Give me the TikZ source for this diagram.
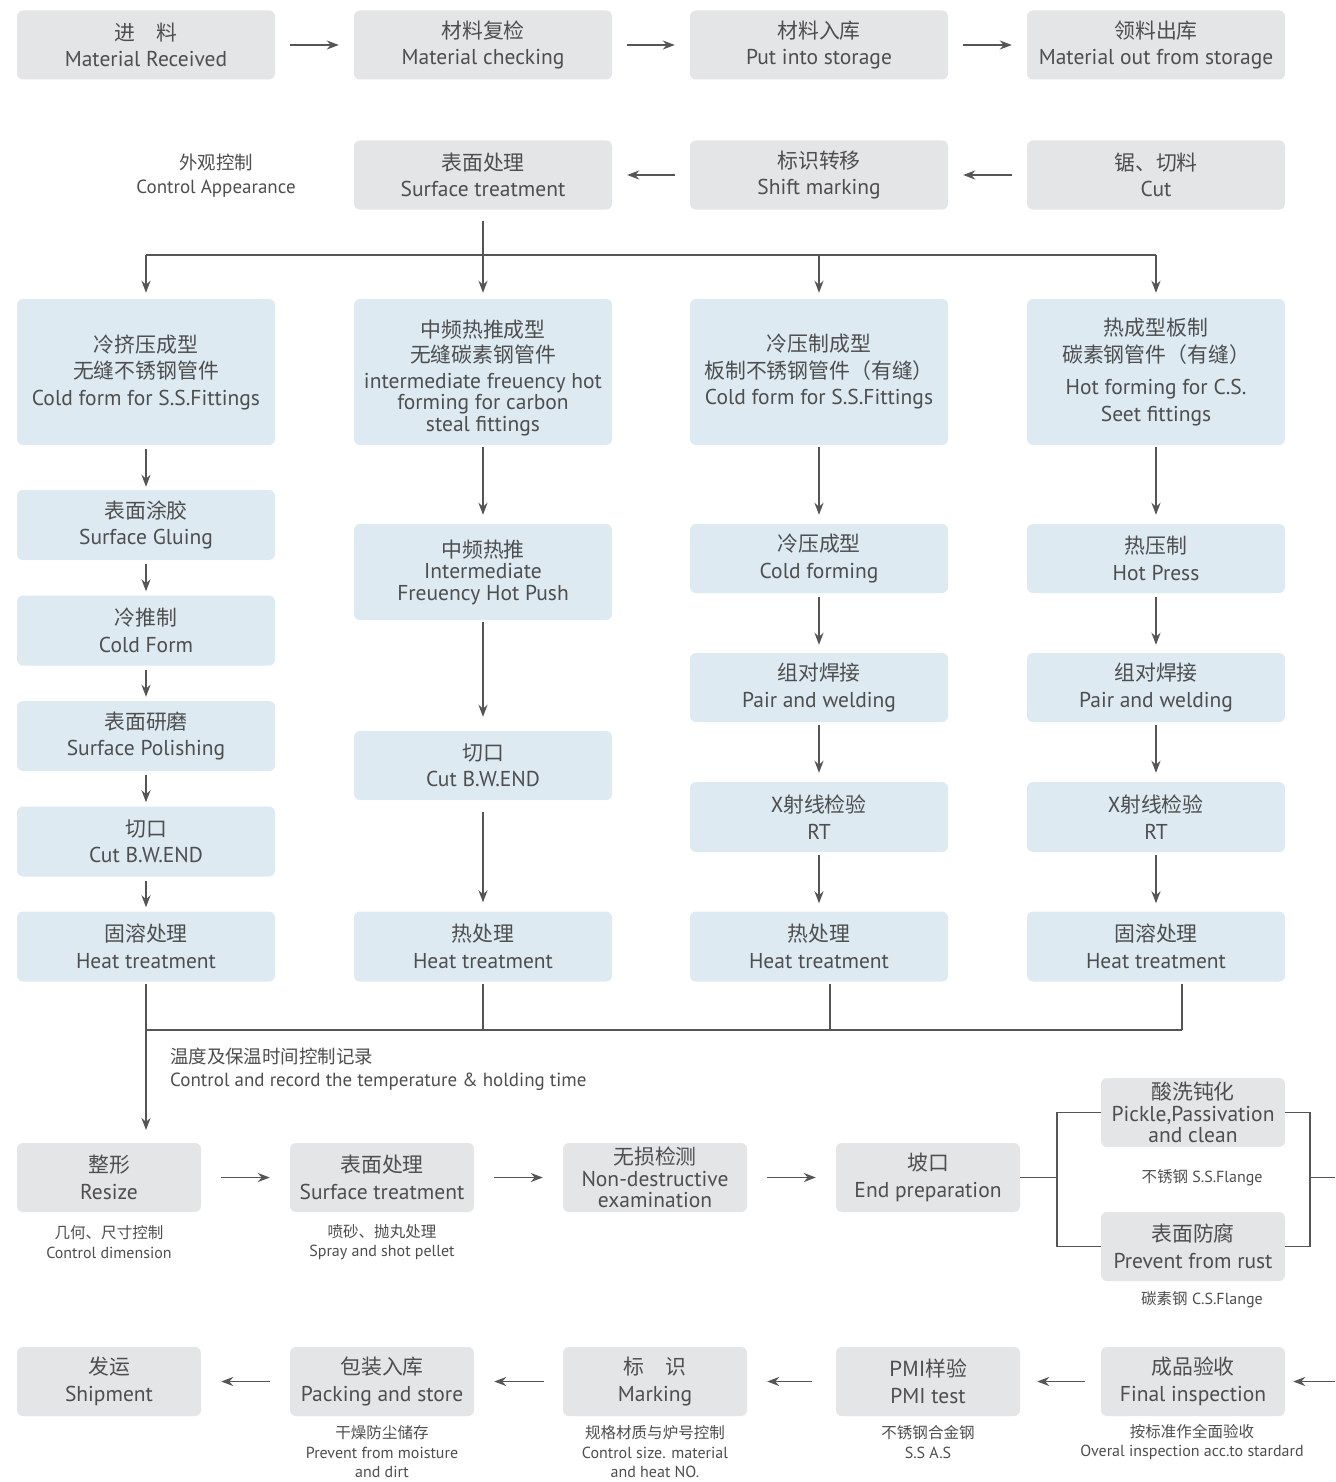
\documentclass[tikz,border=0pt]{standalone}
\usepackage{fontspec}
\setmainfont{PT Sans}
\newfontfamily\cjk[Scale=0.97]{Noto Sans CJK SC}
\usetikzlibrary{arrows.meta}
\definecolor{boxgray}{HTML}{E3E5E6}
\definecolor{boxblue}{HTML}{DDEAF2}
\definecolor{txt}{HTML}{4E4E4E}
\definecolor{ln}{HTML}{555555}
\tikzset{
  base/.style={rounded corners=6pt, inner sep=0pt, align=center, text=txt, font=\fontsize{21.5}{26.5}\selectfont},
  gbox/.style={base, fill=boxgray},
  bbox/.style={base, fill=boxblue},
  wide/.style={minimum width=258pt, minimum height=69pt},
  narrow/.style={minimum width=184pt, minimum height=69pt},
  tall/.style={minimum width=258pt, minimum height=146pt},
  tight/.style={font=\fontsize{21.5}{21.5}\selectfont},
  conn/.style={draw=ln, line width=1.8pt},
  arr/.style={conn, -{Stealth[length=12pt,width=9pt]}},
  note/.style={align=center, text=txt, inner sep=0pt, font=\fontsize{16}{19.5}\selectfont},
}
\begin{document}
\begin{tikzpicture}[x=1pt,y=-1pt]
\useasboundingbox (0,0) rectangle (1335,1482);
\fill[white] (0,0) rectangle (1335,1482);

% Row 1
\node[gbox,wide] (r1a) at (146,45) {{\cjk 进\quad 料}\\Material Received};
\node[gbox,wide] (r1b) at (483,45) {{\cjk 材料复检}\\Material checking};
\node[gbox,wide] (r1c) at (819,45) {{\cjk 材料入库}\\Put into storage};
\node[gbox,wide] (r1d) at (1156,45) {{\cjk 领料出库}\\Material out from storage};
\draw[arr, shorten <=15pt, shorten >=15pt] (r1a) -- (r1b);
\draw[arr, shorten <=15pt, shorten >=15pt] (r1b) -- (r1c);
\draw[arr, shorten <=15pt, shorten >=15pt] (r1c) -- (r1d);

% Row 2
\node[gbox,wide] (st) at (483,175) {{\cjk 表面处理}\\Surface treatment};
\node[gbox,wide] (sm) at (819,175) {{\cjk 标识转移}\\Shift marking};
\node[gbox,wide] (cut) at (1156,175) {{\cjk 锯、切料}\\Cut};
\draw[arr, shorten <=15pt, shorten >=15pt] (cut) -- (sm);
\draw[arr, shorten <=15pt, shorten >=15pt] (sm) -- (st);
\node[note, font=\fontsize{19}{24}\selectfont] (ca) at (216,176) {{\cjk 外观控制}\\Control Appearance};

% Branch
\coordinate (sp) at (483,255);
\coordinate (hl) at (146,255);
\coordinate (hr) at (1156,255);
\coordinate (h3) at (819,255);
\draw[conn, shorten <=11pt] (st.south) -- (sp);
\draw[conn] (hl) -- (hr);

% Row 3 blue
\node[bbox,tall] (c1) at (146,372) {{\cjk 冷挤压成型}\\{\cjk 无缝不锈钢管件}\\Cold form for S.S.Fittings};
\node[bbox,tall] (c2) at (483,372) {};
\node[base,tight] (c2t) at (483,378) {{\cjk 中频热推成型}\\[4pt]{\cjk 无缝碳素钢管件}\\[4pt]intermediate freuency hot\\forming for carbon\\steal fittings};
\node[bbox,tall] (c3) at (819,372) {{\cjk 冷压制成型}\\{\cjk 板制不锈钢管件（有缝）}\\Cold form for S.S.Fittings};
\node[bbox,tall] (c4) at (1156,372) {{\cjk 热成型板制}\\{\cjk 碳素钢管件（有缝）}\\[6pt]Hot forming for C.S.\\Seet fittings};
\draw[arr, shorten >=6pt] (hl) -- (c1.north);
\draw[arr, shorten >=6pt] (sp) -- (c2.north);
\draw[arr, shorten >=6pt] (h3) -- (c3.north);
\draw[arr, shorten >=6pt] (hr) -- (c4.north);

% Column 1
\node[bbox,wide,minimum height=70pt] (a1) at (146,525) {{\cjk 表面涂胶}\\Surface Gluing};
\node[bbox,wide,minimum height=70pt] (a2) at (146,630.5) {{\cjk 冷推制}\\Cold Form};
\node[bbox,wide,minimum height=70pt] (a3) at (146,736) {{\cjk 表面研磨}\\Surface Polishing};
\node[bbox,wide,minimum height=70pt] (a4) at (146,841.5) {{\cjk 切口}\\Cut B.W.END};
\node[bbox,wide,minimum height=70pt] (a5) at (146,946.5) {{\cjk 固溶处理}\\Heat treatment};
\draw[arr, shorten <=4pt, shorten >=3pt] (c1) -- (a1);
\draw[arr, shorten <=4pt, shorten >=4pt] (a1) -- (a2);
\draw[arr, shorten <=4pt, shorten >=4pt] (a2) -- (a3);
\draw[arr, shorten <=4pt, shorten >=4pt] (a3) -- (a4);
\draw[arr, shorten <=4pt, shorten >=4pt] (a4) -- (a5);

% Column 2
\node[bbox,wide,minimum height=96pt,tight] (b1) at (483,572) {{\cjk 中频热推}\\Intermediate\\Freuency Hot Push};
\node[bbox,wide] (b2) at (483,765.5) {{\cjk 切口}\\Cut B.W.END};
\node[bbox,wide,minimum height=70pt] (b3) at (483,946.5) {{\cjk 热处理}\\Heat treatment};
\draw[arr, shorten <=2pt, shorten >=9pt] (c2) -- (b1);
\draw[arr, shorten <=2pt, shorten >=14pt] (b1) -- (b2);
\draw[arr, shorten <=12pt, shorten >=9pt] (b2) -- (b3);

% Column 3
\node[bbox,wide] (d1) at (819,558.5) {{\cjk 冷压成型}\\Cold forming};
\node[bbox,wide] (d2) at (819,687.5) {{\cjk 组对焊接}\\Pair and welding};
\node[bbox,wide,minimum height=70pt] (d3) at (819,817) {{\cjk X射线检验}\\RT};
\node[bbox,wide,minimum height=70pt] (d4) at (819,946.5) {{\cjk 热处理}\\Heat treatment};
\draw[arr, shorten <=2pt, shorten >=9pt] (c3) -- (d1);
\draw[arr, shorten <=4pt, shorten >=8pt] (d1) -- (d2);
\draw[arr, shorten <=3pt, shorten >=9pt] (d2) -- (d3);
\draw[arr, shorten <=3pt, shorten >=8pt] (d3) -- (d4);

% Column 4
\node[bbox,wide] (e1) at (1156,558.5) {{\cjk 热压制}\\Hot Press};
\node[bbox,wide] (e2) at (1156,687.5) {{\cjk 组对焊接}\\Pair and welding};
\node[bbox,wide,minimum height=70pt] (e3) at (1156,817) {{\cjk X射线检验}\\RT};
\node[bbox,wide,minimum height=70pt] (e4) at (1156,946.5) {{\cjk 固溶处理}\\Heat treatment};
\draw[arr, shorten <=2pt, shorten >=9pt] (c4) -- (e1);
\draw[arr, shorten <=4pt, shorten >=8pt] (e1) -- (e2);
\draw[arr, shorten <=3pt, shorten >=9pt] (e2) -- (e3);
\draw[arr, shorten <=3pt, shorten >=8pt] (e3) -- (e4);

% Collector
\coordinate (m1) at (146,1030);
\coordinate (m2) at (483,1030);
\coordinate (m3) at (830,1030);
\coordinate (m4) at (1182,1030);
\coordinate (zin) at (146,1130);
\draw[arr, shorten <=2pt] (a5.south) -- (zin);
\draw[conn, shorten <=2pt] (b3.south) -- (m2);
\draw[conn, shorten <=2pt] (m3 |- d4.south) -- (m3);
\draw[conn, shorten <=2pt] (m4 |- e4.south) -- (m4);
\draw[conn] (m1) -- (m4);
\node[note, anchor=west, align=left, font=\fontsize{19}{23}\selectfont] (tl) at (170,1069) {{\cjk 温度及保温时间控制记录}\\Control and record the temperature \& holding time};

% Row 5
\node[gbox,narrow] (z1) at (109,1177.5) {{\cjk 整形}\\Resize};
\node[gbox,narrow] (z2) at (382,1177.5) {{\cjk 表面处理}\\Surface treatment};
\node[gbox,narrow,tight] (z3) at (655,1177.5) {{\cjk 无损检测}\\Non-destructive\\examination};
\node[gbox,narrow] (z4) at (928,1177.5) {{\cjk 坡口}\\End preparation};
\draw[arr, shorten <=20pt, shorten >=20pt] (z1) -- (z2);
\draw[arr, shorten <=20pt, shorten >=20pt] (z2) -- (z3);
\draw[arr, shorten <=20pt, shorten >=20pt] (z3) -- (z4);
\node[note] (n1) at (109,1242) {{\cjk 几何、尺寸控制}\\Control dimension};
\node[note] (n2) at (382,1242) {{\cjk 喷砂、抛丸处理}\\Spray and shot pellet};

% Branch right
\node[gbox,narrow,tight] (p1) at (1193,1112.5) {{\cjk 酸洗钝化}\\Pickle,Passivation\\and clean};
\node[gbox,narrow] (p2) at (1193,1246.5) {{\cjk 表面防腐}\\Prevent from rust};
\node[note] (pl1) at (1202,1178) {{\cjk 不锈钢} S.S.Flange};
\node[note] (pl2) at (1202,1300) {{\cjk 碳素钢} C.S.Flange};
\coordinate (bl) at (1057,1177.5);
\coordinate (br) at (1310,1177.5);
\coordinate (out) at (1335,1177.5);
\draw[conn] (z4.east) -- (bl);
\draw[conn] (p1.west) -| (bl) |- (p2.west);
\draw[conn] (p1.east) -| (br) |- (p2.east);
\draw[conn] (br) -- (out);

% Row 6
\node[gbox,narrow] (f5) at (1193,1381.5) {{\cjk 成品验收}\\Final inspection};
\node[gbox,narrow] (f4) at (928,1381.5) {{\cjk PMI样验}\\PMI test};
\node[gbox,narrow] (f3) at (655,1381.5) {{\cjk 标\quad 识}\\Marking};
\node[gbox,narrow] (f2) at (382,1381.5) {{\cjk 包装入库}\\Packing and store};
\node[gbox,narrow] (f1) at (109,1381.5) {{\cjk 发运}\\Shipment};
\coordinate (in) at (1335,1381.5);
\draw[arr, shorten >=8pt] (in) -- (f5);
\draw[arr, shorten <=16pt, shorten >=17pt] (f5) -- (f4);
\draw[arr, shorten <=24pt, shorten >=20pt] (f4) -- (f3);
\draw[arr, shorten <=19pt, shorten >=20pt] (f3) -- (f2);
\draw[arr, shorten <=20pt, shorten >=20pt] (f2) -- (f1);
\node[note] (g5) at (1192,1442) {{\cjk 按标准作全面验收}\\Overal inspection acc.to stardard};
\node[note] (g4) at (928,1442) {{\cjk 不锈钢合金钢}\\S.S A.S};
\node[note] (g3) at (655,1452) {{\cjk 规格材质与炉号控制}\\Control size. material\\and heat NO.};
\node[note] (g2) at (382,1452) {{\cjk 干燥防尘储存}\\Prevent from moisture\\and dirt};
\end{tikzpicture}
\end{document}
